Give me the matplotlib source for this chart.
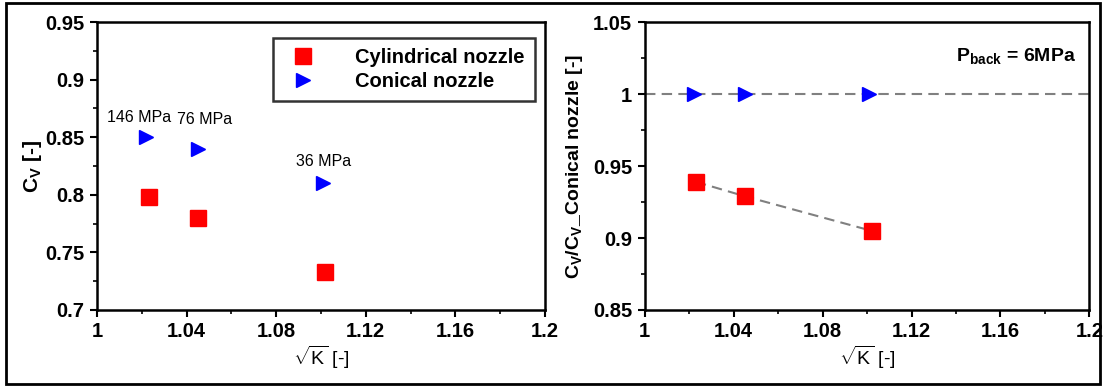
import numpy as np
import matplotlib
matplotlib.use('Agg')
import matplotlib.pyplot as plt
from matplotlib.patches import Rectangle
from matplotlib.ticker import MultipleLocator

plt.rcParams['font.family'] = ['Liberation Sans', 'DejaVu Sans']
plt.rcParams['mathtext.fontset'] = 'custom'
plt.rcParams['mathtext.rm'] = 'Liberation Sans'
plt.rcParams['mathtext.bf'] = 'Liberation Sans:bold'

# sqrt(K) and discharge coefficients
sqrtk_cyl = [1.023, 1.045, 1.102]
cv_cyl = [0.798, 0.780, 0.733]
sqrtk_con = [1.022, 1.045, 1.101]
cv_con = [0.850, 0.840, 0.810]
pressure_labels = ['146 MPa', '76 MPa', '36 MPa']

# normalized by the conical nozzle
ratio_cyl = [0.939, 0.929, 0.905]
ratio_con = [1.0, 1.0, 1.0]

fig = plt.figure(figsize=(11.06, 3.87), dpi=100)
ax1 = fig.add_axes([0.0877, 0.199, 0.405, 0.744])
ax2 = fig.add_axes([0.583, 0.199, 0.402, 0.744])

# outer frame around both panels
fig.patches.append(Rectangle((0.005, 0.008), 0.99, 0.985, transform=fig.transFigure,
                             fill=False, edgecolor='black', linewidth=2))

ax1.plot(sqrtk_cyl, cv_cyl, 's', color='red', markersize=11, label='Cylindrical nozzle')
ax1.plot(sqrtk_con, cv_con, '>', color='blue', markersize=10, label='Conical nozzle')
offsets = [(-0.003, 0.011), (0.003, 0.019), (0.0, 0.012)]
for x, y, t, (dx, dy) in zip(sqrtk_con, cv_con, pressure_labels, offsets):
    ax1.text(x + dx, y + dy, t, ha='center', va='bottom', fontsize=11.5)
ax1.set_ylim(0.7, 0.95)
ax1.yaxis.set_major_locator(MultipleLocator(0.05))
ax1.yaxis.set_minor_locator(MultipleLocator(0.025))
ax1.set_ylabel(r'C$_\mathregular{V}$ [-]', fontsize=15, fontweight='bold', labelpad=1)
leg = ax1.legend(loc='upper right', fontsize=14.5, frameon=True, fancybox=False,
                 edgecolor='black', borderpad=0.5, handletextpad=1.6, labelspacing=0.25,
                 handlelength=2.0, bbox_to_anchor=(1.0, 0.98))
leg.get_frame().set_linewidth(1.8)
for t in leg.get_texts():
    t.set_fontweight('bold')

ax2.axhline(1.0, color='gray', linestyle=(0, (5, 3)), linewidth=1.5, zorder=1)
ax2.plot(sqrtk_cyl, ratio_cyl, color='gray', linestyle=(0, (5, 3)), linewidth=1.5, zorder=1)
ax2.plot(sqrtk_cyl, ratio_cyl, 's', color='red', markersize=11, zorder=3)
ax2.plot(sqrtk_con, ratio_con, '>', color='blue', markersize=10, zorder=3)
ax2.set_ylim(0.85, 1.05)
ax2.yaxis.set_major_locator(MultipleLocator(0.05))
ax2.yaxis.set_minor_locator(MultipleLocator(0.025))
ax2.set_ylabel(r'C$_\mathregular{V}$/C$_\mathregular{V}$_Conical nozzle [-]', fontsize=14, fontweight='bold', labelpad=6)
ax2.text(0.97, 0.88, r'P$_\mathregular{back}$ = 6MPa', transform=ax2.transAxes,
         ha='right', va='center', fontsize=14, fontweight='bold')

for ax in (ax1, ax2):
    ax.set_xlim(1.0, 1.2)
    ax.xaxis.set_major_locator(MultipleLocator(0.04))
    ax.xaxis.set_minor_locator(MultipleLocator(0.02))
    ax.xaxis.set_major_formatter(plt.FuncFormatter(lambda v, p: f'{v:g}'))
    ax.yaxis.set_major_formatter(plt.FuncFormatter(lambda v, p: f'{v:g}'))
    ax.set_xlabel(r'$\sqrt{\mathregular{K}}$ [-]', fontsize=14, labelpad=2)
    ax.tick_params(which='major', direction='out', length=5, width=1.5, labelsize=14.5, pad=4)
    ax.tick_params(which='minor', direction='out', length=3, width=1.2)
    for lab in ax.get_xticklabels() + ax.get_yticklabels():
        lab.set_fontweight('bold')
    for s in ax.spines.values():
        s.set_linewidth(1.8)

fig.savefig('out.png', dpi=100)
